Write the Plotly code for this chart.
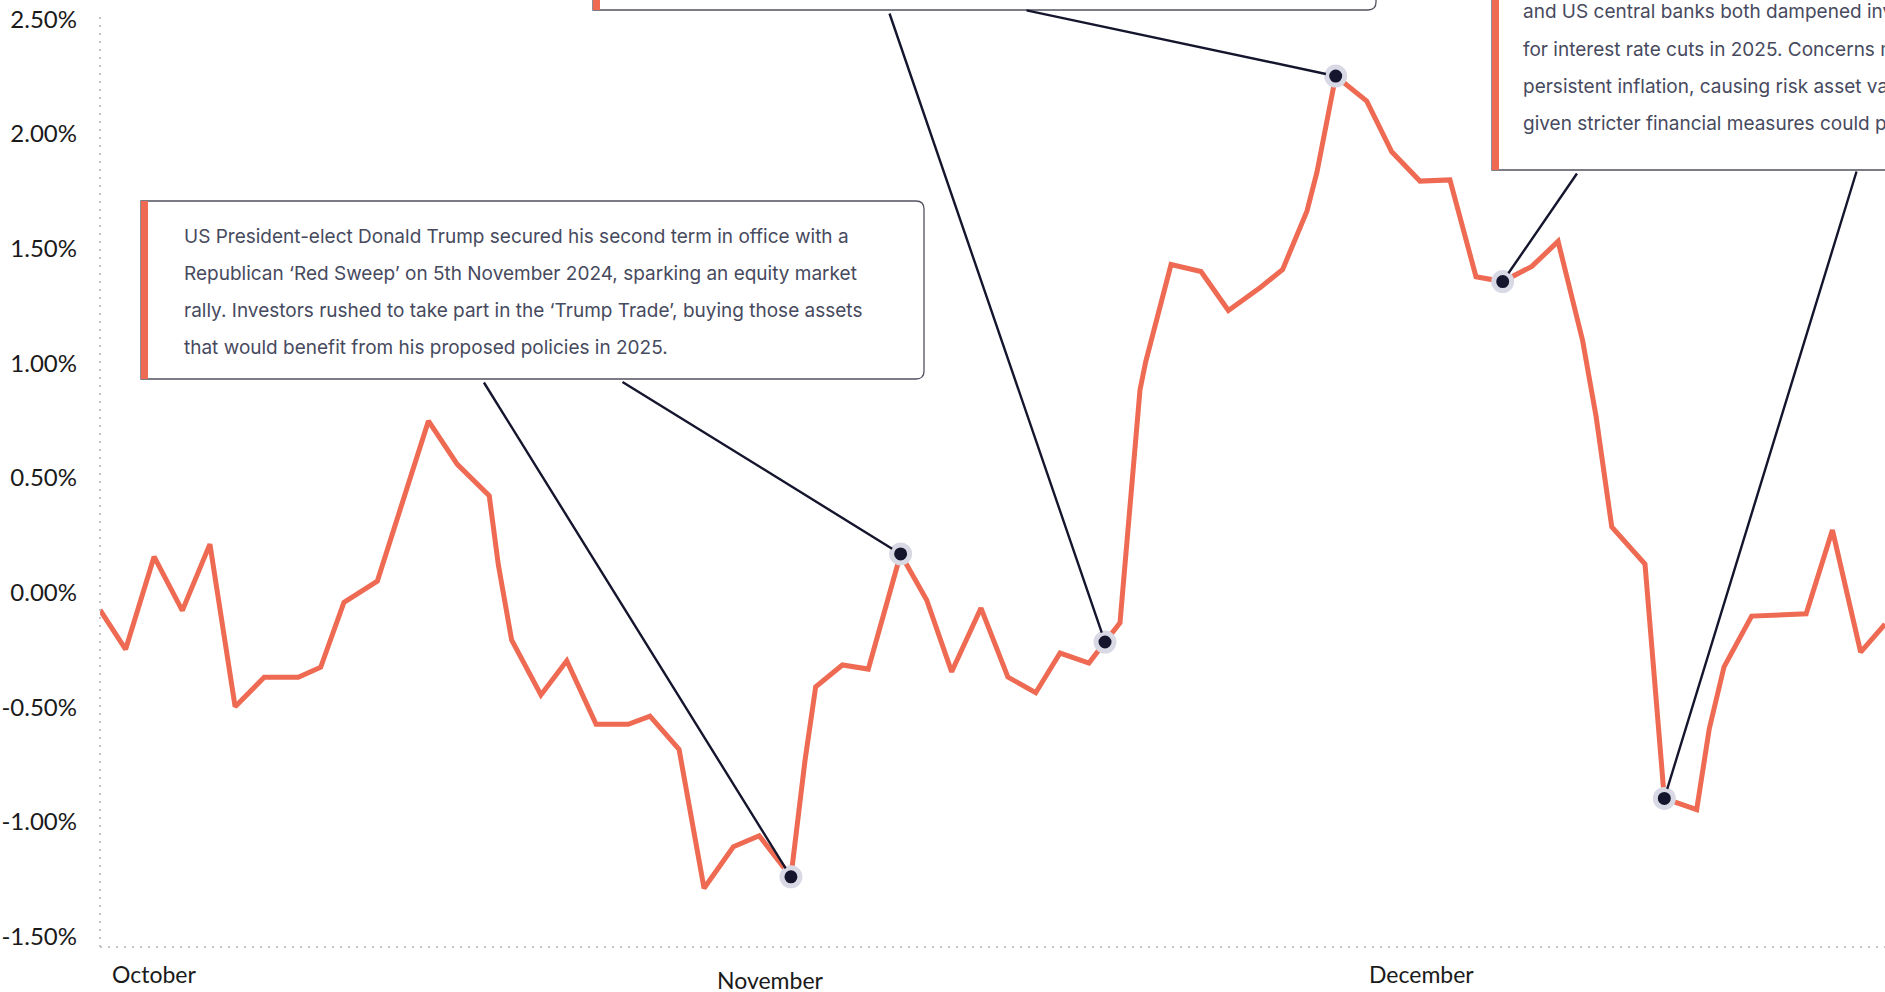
import plotly.graph_objects as go

# ---------------- data ----------------
# x: days since 1 October 2024, y: cumulative return in %
day_offset = [0, 1.18, 2.49, 3.79, 5.06, 6.22, 7.56, 9.13, 10.16, 11.23,
              12.77, 13.93, 15.12, 16.45, 17.92, 18.34, 18.95, 20.30, 21.49, 22.84,
              24.32, 25.32, 26.66, 27.81, 29.16, 30.35, 31.81, 32.46, 32.95, 34.18,
              35.37, 36.86, 38.06, 39.21, 40.56, 41.80, 43.08, 44.20, 45.53, 46.27,
              46.96, 47.88, 48.14, 49.31, 50.69, 51.95, 53.45, 54.45, 55.57, 56.03,
              56.89, 58.32, 59.47, 60.77, 62.15, 63.35, 64.58, 65.92, 67.13, 68.26,
              68.88, 69.60, 71.13, 72.02, 73.51, 74.09, 74.77, 76.04, 77.30, 78.55,
              79.76, 81.06, 82.18]
return_pct = [-0.075, -0.247, 0.157, -0.078, 0.212, -0.497, -0.369, -0.369, -0.325, -0.042,
              0.051, 0.388, 0.749, 0.560, 0.423, 0.121, -0.206, -0.446, -0.297, -0.574,
              -0.574, -0.538, -0.683, -1.289, -1.108, -1.060, -1.239, -0.730, -0.410, -0.315,
              -0.333, 0.169, -0.032, -0.345, -0.067, -0.368, -0.436, -0.263, -0.307, -0.215,
              -0.131, 0.884, 1.006, 1.431, 1.401, 1.231, 1.333, 1.410, 1.665, 1.835,
              2.253, 2.144, 1.923, 1.795, 1.800, 1.378, 1.357, 1.423, 1.532, 1.099,
              0.768, 0.287, 0.125, -0.897, -0.946, -0.593, -0.323, -0.102, -0.095, -0.092,
              0.273, -0.259, -0.137]
highlight_idx = [26, 31, 39, 50, 56, 63]

y_tick_vals = [-1.5, -1.0, -0.5, 0.0, 0.5, 1.0, 1.5, 2.0, 2.5]
y_tick_text = ["-1.50%", "-1.00%", "-0.50%", "0.00%", "0.50%", "1.00%", "1.50%", "2.00%", "2.50%"]
month_labels = ["October", "November", "December"]
month_days = [0, 31, 61]

box1_lines = [
    "US President-elect Donald Trump secured his second term in office with a",
    "Republican \u2018Red Sweep\u2019 on 5th November 2024, sparking an equity market",
    "rally. Investors rushed to take part in the \u2018Trump Trade\u2019, buying those assets",
    "that would benefit from his proposed policies in 2025.",
]
box3_lines = [
    "and US central banks both dampened investor hopes",
    "for interest rate cuts in 2025. Concerns mounted over",
    "persistent inflation, causing risk asset valuations to drop",
    "given stricter financial measures could persist.",
]

# ---------------- layout geometry ----------------
W, H = 1885, 992
PL, PR, PT, PB = 100, 1885, 13, 947
X_RANGE = [0, 82.18]
Y_RANGE = [-1.545, 2.528]

ORANGE = "#ee6a53"
NAVY = "#15162e"
BORDER = "#50525f"
TEXTC = "#474a5e"


def px(X):
    return (X - PL) / (PR - PL)


def py(Y):
    return (PB - Y) / (PB - PT)


def d2px(d, v):
    X = PL + (d - X_RANGE[0]) / (X_RANGE[1] - X_RANGE[0]) * (PR - PL)
    Y = PB - (v - Y_RANGE[0]) / (Y_RANGE[1] - Y_RANGE[0]) * (PB - PT)
    return X, Y


def box_path(x0, y0, x1, y1, r):
    pts = [
        ("M", x0, y0), ("L", x1 - r, y0), ("Q", x1, y0, x1, y0 + r),
        ("L", x1, y1 - r), ("Q", x1, y1, x1 - r, y1), ("L", x0, y1),
    ]
    s = ""
    for p in pts:
        if p[0] == "Q":
            s += "Q %.5f,%.5f %.5f,%.5f " % (px(p[1]), py(p[2]), px(p[3]), py(p[4]))
        else:
            s += "%s %.5f,%.5f " % (p[0], px(p[1]), py(p[2]))
    return s + "Z"


shapes = []
annotations = []


def add_box(x0, y0, x1, y1):
    shapes.append(dict(type="path", xref="paper", yref="paper", path=box_path(x0, y0, x1, y1, 8),
                       fillcolor="white", line=dict(color=BORDER, width=1.3), layer="above"))
    shapes.append(dict(type="rect", xref="paper", yref="paper", x0=px(x0), x1=px(x0 + 7),
                       y0=py(y1), y1=py(y0), fillcolor=ORANGE, line=dict(width=0), layer="above"))


add_box(141, 201, 924, 379)
add_box(593, -170, 1376, 10)
add_box(1492, -40, 1990, 170)

# axis dotted lines
shapes.append(dict(type="line", xref="paper", yref="paper", x0=0, x1=0, y0=0, y1=1,
                   line=dict(color="#c4c4c4", width=2, dash="2px,6px")))
shapes.append(dict(type="line", xref="paper", yref="paper", x0=0, x1=1, y0=0, y1=0,
                   line=dict(color="#c4c4c4", width=2, dash="2px,6px")))

# box text
for i, t in enumerate(box1_lines):
    annotations.append(dict(xref="paper", yref="paper", x=px(182), y=py(236 + 37.2 * i), text=t,
                            showarrow=False, xanchor="left", yanchor="middle",
                            font=dict(family="Inter", size=19, color=TEXTC)))
for i, t in enumerate(box3_lines):
    annotations.append(dict(xref="paper", yref="paper", x=px(1521), y=py(12 + 37.3 * i), text=t,
                            showarrow=False, xanchor="left", yanchor="middle",
                            font=dict(family="Inter", size=19, color=TEXTC)))

# connectors: tail on box edge (pixels) -> highlighted point
tails = [(483, 381), (621, 381), (889, 12), (1025, 10), (1578, 172), (1857, 170)]
for (tx, ty), k in zip(tails, highlight_idx):
    mx, my = d2px(day_offset[k], return_pct[k])
    annotations.append(dict(x=day_offset[k], y=return_pct[k], xref="x", yref="y", text="",
                            showarrow=True, arrowhead=0, arrowwidth=2.4, arrowcolor=NAVY,
                            ax=tx - mx, ay=ty - my, standoff=10))

# month labels
month_anchor = ["left", "center", "center"]
month_shift = [10, -3, -3]
month_y = [974, 980, 974]
for lab, d, anc, sh, yy in zip(month_labels, month_days, month_anchor, month_shift, month_y):
    annotations.append(dict(x=d, xref="x", y=py(yy), yref="paper", text=lab, showarrow=False,
                            xanchor=anc, yanchor="middle", xshift=sh,
                            font=dict(family="Lato", size=23, color="#1a1a1a")))

fig = go.Figure()
fig.add_trace(go.Scatter(x=day_offset, y=return_pct, mode="lines",
                         line=dict(color=ORANGE, width=5), hoverinfo="skip"))
fig.add_trace(go.Scatter(x=[day_offset[k] for k in highlight_idx],
                         y=[return_pct[k] for k in highlight_idx], mode="markers",
                         marker=dict(size=18, color=NAVY, line=dict(color="#d8d9e5", width=5)),
                         hoverinfo="skip", cliponaxis=False))

fig.update_layout(
    width=W, height=H, margin=dict(l=PL, r=W - PR, t=PT, b=H - PB),
    paper_bgcolor="white", plot_bgcolor="white", showlegend=False,
    shapes=shapes, annotations=annotations,
    xaxis=dict(range=X_RANGE, showgrid=False, zeroline=False, showline=False,
               showticklabels=False, ticks=""),
    yaxis=dict(range=Y_RANGE, showgrid=False, zeroline=False, showline=False,
               tickvals=y_tick_vals, ticktext=y_tick_text, ticks="",
               ticklabelstandoff=22,
               tickfont=dict(family="Lato", size=24, color="#1a1a1a")),
)

fig.write_html("out.html", config={"displayModeBar": False},
               post_script="document.body.style.margin='0';document.body.style.overflow='hidden';")
